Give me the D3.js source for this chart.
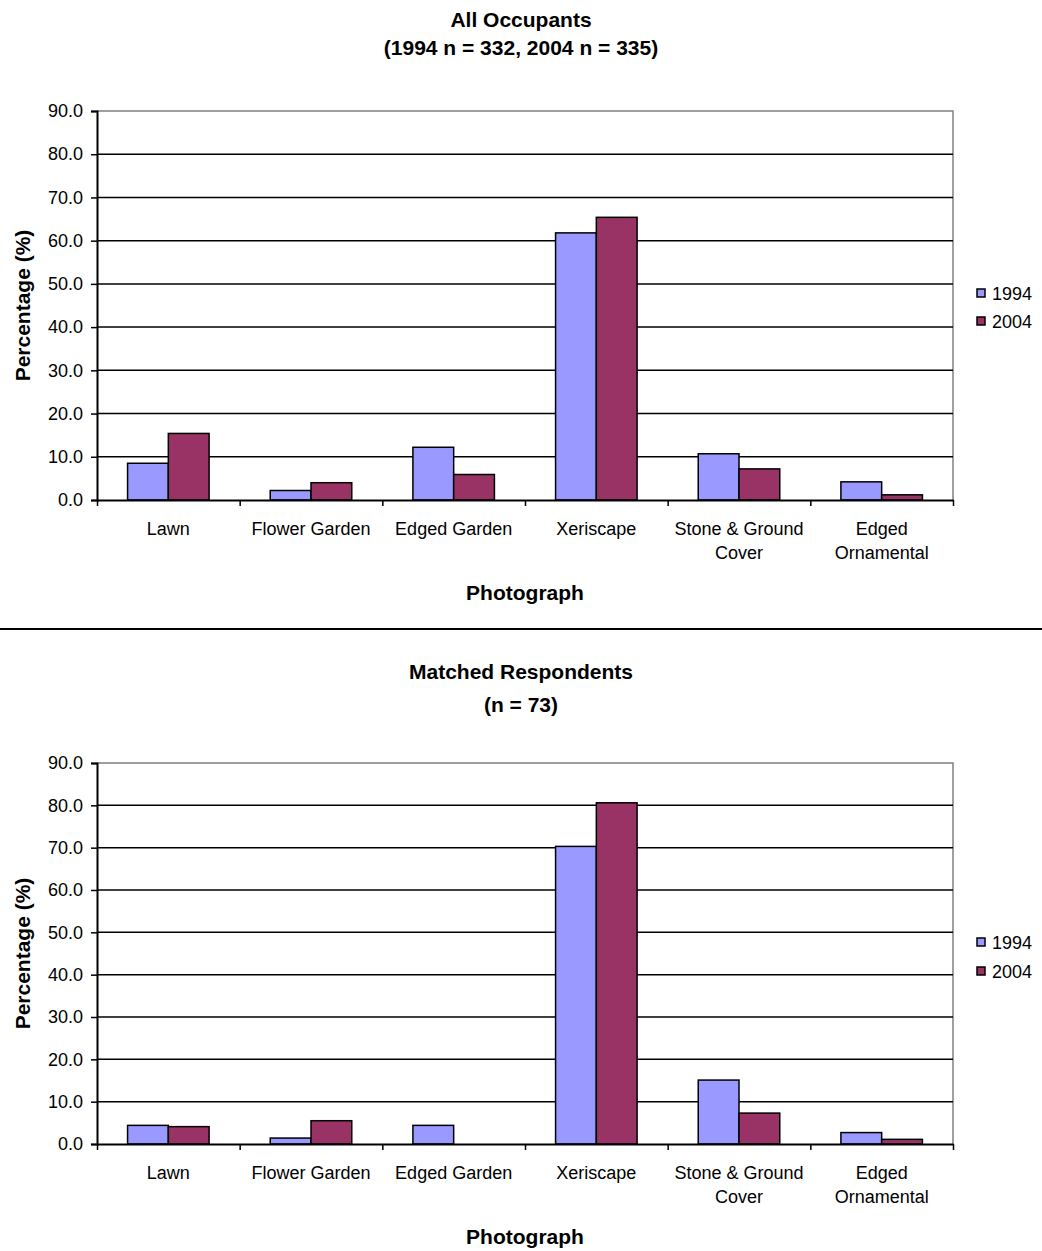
<!DOCTYPE html>
<html>
<head>
<meta charset="utf-8">
<script src="https://cdn.jsdelivr.net/npm/d3@7"></script>
<style>
  body { margin: 0; background: #fff; }
  svg { display: block; }
  text { font-family: "Liberation Sans", Arial, sans-serif; fill: #000; }
</style>
</head>
<body>
<svg id="chart" width="1042" height="1251"></svg>
<script>
// Photograph categories and their wrapped tick labels
const categories = ["Lawn", "Flower Garden", "Edged Garden", "Xeriscape", "Stone & Ground Cover", "Edged Ornamental"];
const categoryLines = [["Lawn"], ["Flower Garden"], ["Edged Garden"], ["Xeriscape"], ["Stone & Ground", "Cover"], ["Edged", "Ornamental"]];

// Survey years and their bar colours
const seriesNames = ["1994", "2004"];
const seriesColors = ["#9999FF", "#993366"];

// Percentage preferring each photograph — all occupants
const allOccupants1994 = [8.5, 2.2, 12.2, 61.8, 10.7, 4.2];
const allOccupants2004 = [15.4, 4.0, 5.9, 65.4, 7.2, 1.2];

// Percentage preferring each photograph — matched respondents
const matched1994 = [4.4, 1.4, 4.4, 70.3, 15.1, 2.7];
const matched2004 = [4.1, 5.5, 0.0, 80.6, 7.3, 1.1];

// Value axis ticks
const yTicks = [0, 10, 20, 30, 40, 50, 60, 70, 80, 90];

const svg = d3.select("#chart");
const WIDTH = 1042;
const plotLeft = 97, plotRight = 953;

function drawPanel(p) {
  const g = svg.append("g");

  const x = d3.scaleBand().domain(categories).range([plotLeft, plotRight]).padding(0);
  const xs = d3.scaleBand().domain(seriesNames).range([0, x.bandwidth()])
    .paddingInner(0).paddingOuter(0.75);
  const y = d3.scaleLinear().domain([0, 90]).range([p.bottom, p.top]);

  // Titles
  p.titleLines.forEach((t, i) => {
    g.append("text").attr("x", (plotLeft + plotRight) / 2 - 4).attr("y", p.titleY[i])
      .attr("text-anchor", "middle").style("font-size", "21px").style("font-weight", "bold")
      .text(t);
  });

  // Plot frame: top and right edges in grey
  g.append("path")
    .attr("d", `M${plotLeft},${p.top}H${plotRight}V${p.bottom}`)
    .attr("fill", "none").attr("stroke", "#808080").attr("stroke-width", 1.5);

  // Horizontal gridlines
  g.append("g").selectAll("line").data(yTicks.filter(d => d > 0 && d < 90)).join("line")
    .attr("x1", plotLeft).attr("x2", plotRight)
    .attr("y1", d => y(d)).attr("y2", d => y(d))
    .attr("stroke", "#000").attr("stroke-width", 1.5);

  // Bars
  const values = [p.values[0], p.values[1]];
  seriesNames.forEach((s, si) => {
    g.append("g").selectAll("rect").data(categories).join("rect")
      .attr("x", (c) => x(c) + xs(s))
      .attr("width", xs.bandwidth())
      .attr("y", (c, i) => y(values[si][i]))
      .attr("height", (c, i) => y(0) - y(values[si][i]))
      .attr("fill", seriesColors[si])
      .attr("stroke", "#000").attr("stroke-width", 1.5);
  });

  // Value axis
  const yAxis = g.append("g").attr("transform", `translate(${plotLeft},0)`)
    .call(d3.axisLeft(y).tickValues(yTicks).tickFormat(d3.format(".1f")).tickSize(6).tickPadding(8));
  yAxis.select(".domain").attr("stroke", "#000").attr("stroke-width", 2);
  yAxis.selectAll(".tick line").attr("stroke", "#000").attr("stroke-width", 1.5);
  yAxis.selectAll(".tick text").style("font-size", "18px").style("font-family", "Liberation Sans, Arial, sans-serif").attr("fill", "#000");

  // Category axis with tick marks at category boundaries
  const xb = d3.scaleLinear().domain([0, categories.length]).range([plotLeft, plotRight]);
  const xAxis = g.append("g").attr("transform", `translate(0,${p.bottom})`)
    .call(d3.axisBottom(xb).tickValues(d3.range(categories.length + 1)).tickFormat("").tickSize(6).tickSizeOuter(0));
  xAxis.select(".domain").attr("stroke", "#000").attr("stroke-width", 2);
  xAxis.selectAll(".tick line").attr("stroke", "#000").attr("stroke-width", 1.5);

  // Category labels
  categories.forEach((c, i) => {
    const t = g.append("text").attr("text-anchor", "middle").style("font-size", "18px");
    categoryLines[i].forEach((line, li) => {
      t.append("tspan").attr("x", x(c) + x.bandwidth() / 2).attr("y", p.bottom + 35 + li * 24).text(line);
    });
  });

  // Axis titles
  g.append("text").attr("x", (plotLeft + plotRight) / 2).attr("y", p.bottom + 100)
    .attr("text-anchor", "middle").style("font-size", "21px").style("font-weight", "bold")
    .text("Photograph");
  g.append("text")
    .attr("transform", `translate(30,${(p.top + p.bottom) / 2}) rotate(-90)`)
    .attr("text-anchor", "middle").style("font-size", "21px").style("font-weight", "bold")
    .text("Percentage (%)");

  // Legend
  seriesNames.forEach((s, si) => {
    const cy = p.legendY[si];
    g.append("rect").attr("x", 977).attr("y", cy - 4).attr("width", 8).attr("height", 8)
      .attr("fill", seriesColors[si]).attr("stroke", "#000").attr("stroke-width", 1.5);
    g.append("text").attr("x", 992).attr("y", cy + 6.5).style("font-size", "18px").text(s);
  });
}

drawPanel({
  top: 111, bottom: 500,
  titleLines: ["All Occupants", "(1994 n = 332, 2004 n = 335)"], titleY: [27, 55],
  values: [allOccupants1994, allOccupants2004],
  legendY: [293, 321]
});

// Divider between the two panels
svg.append("line").attr("x1", 0).attr("x2", WIDTH).attr("y1", 629).attr("y2", 629)
  .attr("stroke", "#000").attr("stroke-width", 2);

drawPanel({
  top: 763, bottom: 1144,
  titleLines: ["Matched Respondents", "(n = 73)"], titleY: [679, 712],
  values: [matched1994, matched2004],
  legendY: [942, 971]
});
</script>
</body>
</html>
